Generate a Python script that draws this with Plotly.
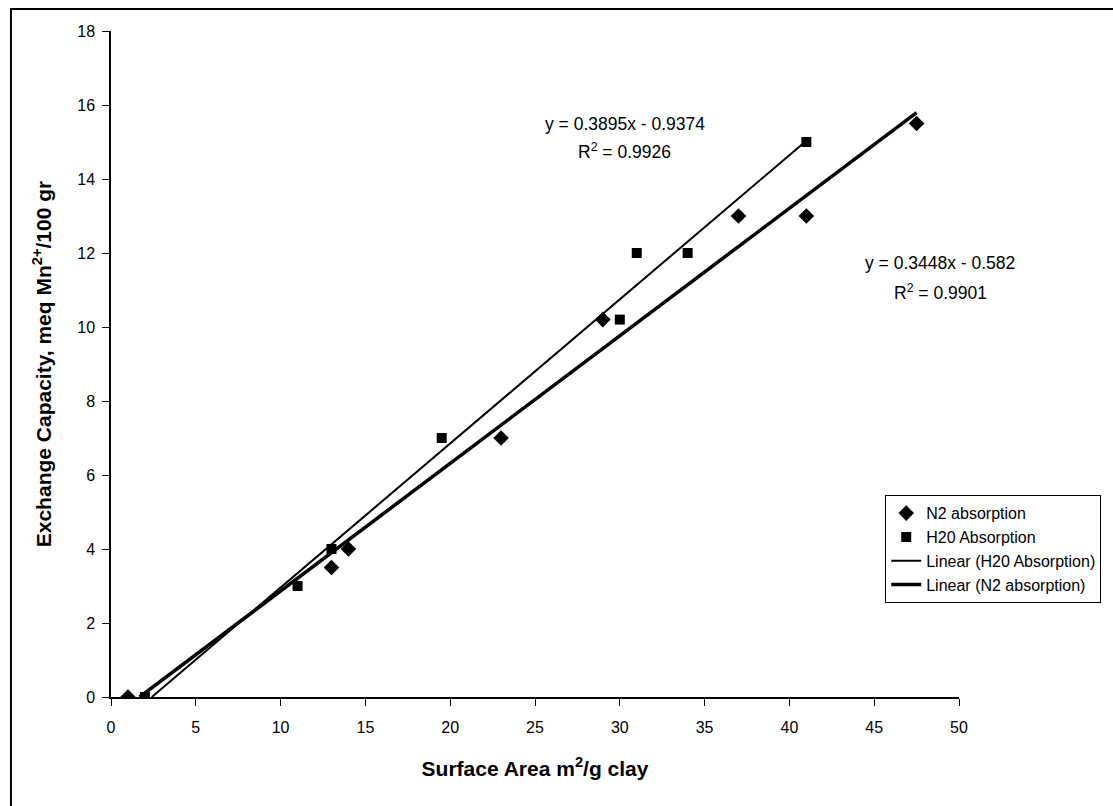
import plotly.graph_objects as go

# Data
n2_x = [1, 13, 14, 23, 29, 37, 41, 47.5]
n2_y = [0, 3.5, 4, 7, 10.2, 13, 13, 15.5]
h2o_x = [2, 11, 13, 19.5, 30, 31, 34, 41]
h2o_y = [0, 3, 4, 7, 10.2, 12, 12, 15]

# Trendline coefficients (as printed on chart)
h2o_slope, h2o_int = 0.3895, -0.9374
n2_slope, n2_int = 0.3448, -0.582

x_ticks = [0, 5, 10, 15, 20, 25, 30, 35, 40, 45, 50]
y_ticks = [0, 2, 4, 6, 8, 10, 12, 14, 16, 18]

def trend(xs, slope, intercept):
    x0 = max(min(xs), -intercept / slope)
    x1 = max(xs)
    return [x0, x1], [slope * x0 + intercept, slope * x1 + intercept]

font = "Liberation Sans, Arial, sans-serif"
fig = go.Figure()
fig.add_trace(go.Scatter(x=n2_x, y=n2_y, mode="markers", name="N2 absorption",
                         marker=dict(symbol="diamond", size=12, color="black")))
fig.add_trace(go.Scatter(x=h2o_x, y=h2o_y, mode="markers", name="H20 Absorption",
                         marker=dict(symbol="square", size=10, color="black")))
tx, ty = trend(h2o_x, h2o_slope, h2o_int)
fig.add_trace(go.Scatter(x=tx, y=ty, mode="lines", name="Linear (H20 Absorption)",
                         line=dict(color="black", width=2)))
tx, ty = trend(n2_x, n2_slope, n2_int)
fig.add_trace(go.Scatter(x=tx, y=ty, mode="lines", name="Linear (N2 absorption)",
                         line=dict(color="black", width=3.5)))

ann_font = dict(size=17.5, color="black", family=font)
fig.add_annotation(x=30.3, y=15.5, text="y = 0.3895x - 0.9374", showarrow=False, font=ann_font)
fig.add_annotation(x=30.3, y=14.75, text="R<sup>2</sup> = 0.9926", showarrow=False, font=ann_font)
fig.add_annotation(x=48.9, y=11.73, text="y = 0.3448x - 0.582", showarrow=False, font=ann_font)
fig.add_annotation(x=48.9, y=10.95, text="R<sup>2</sup> = 0.9901", showarrow=False, font=ann_font)

fig.add_shape(type="rect", xref="paper", yref="paper", x0=-0.118, x1=1.4, y0=-0.3, y1=1.033,
              line=dict(color="black", width=2), layer="below")

fig.update_layout(
    width=1113, height=806,
    margin=dict(l=111, r=143, t=31, b=109),
    paper_bgcolor="white", plot_bgcolor="white",
    font=dict(family=font, color="black"),
    showlegend=True,
    legend=dict(x=0.913, y=0.303, xanchor="left", yanchor="top",
                bordercolor="black", borderwidth=1, bgcolor="white",
                font=dict(size=16, family=font), tracegroupgap=0, itemwidth=30),
)
fig.update_xaxes(range=[0, 50], tickvals=x_ticks, showgrid=False, zeroline=False,
                 showline=True, linecolor="black", linewidth=1.5, ticks="outside",
                 ticklen=7, tickcolor="black", tickfont=dict(size=16), ticklabelstandoff=8,
                 title=dict(text="<b>Surface Area m<sup>2</sup>/g clay</b>", font=dict(size=21), standoff=26))
fig.update_yaxes(range=[0, 18], tickvals=y_ticks, showgrid=False, zeroline=False,
                 showline=True, linecolor="black", linewidth=1.5, ticks="outside",
                 ticklen=7, tickcolor="black", tickfont=dict(size=16), ticklabelstandoff=4,
                 title=dict(text="<b>Exchange Capacity, meq Mn<sup>2+</sup>/100 gr</b>", font=dict(size=21), standoff=20))

fig.write_html("out.html")
